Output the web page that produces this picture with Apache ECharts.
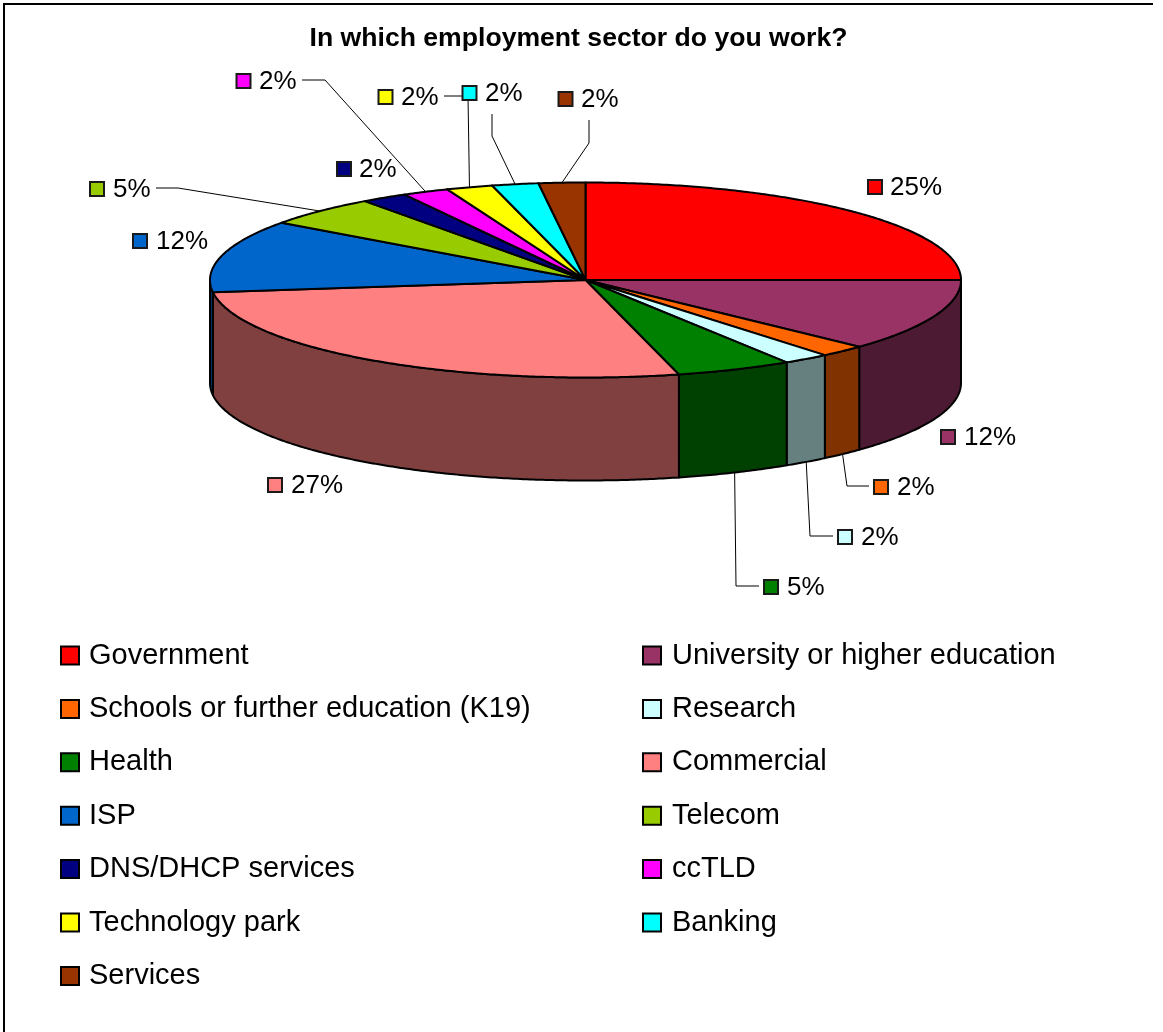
<!DOCTYPE html>
<html>
<head>
<meta charset="utf-8">
<style>html,body{margin:0;padding:0;background:#fff}#chart{width:1163px;height:1032px}</style>
<script src="https://cdn.jsdelivr.net/npm/echarts@6/dist/echarts.min.js"></script>
</head>
<body>
<div id="chart"></div>
<script>
// Survey answers, in percent, in drawing order (clockwise from twelve o'clock).
const categories = ['Government', 'University or higher education', 'Schools or further education (K19)', 'Research', 'Health', 'Commercial', 'ISP', 'Telecom', 'DNS/DHCP services', 'ccTLD', 'Technology park', 'Banking', 'Services'];
const shares = [25, 12, 2, 2, 5, 27, 12, 5, 2, 2, 2, 2, 2];
const colours = ['#FF0000', '#993366', '#FF6600', '#CCFFFF', '#008000', '#FF8080', '#0066CC', '#99CC00', '#000080', '#FF00FF', '#FFFF00', '#00FFFF', '#993300'];

// Disc geometry in pixels.
const disc = { cx: 585.5, cy: 280, rx: 375.5, ry: 97.5, depth: 103 };
const FONT = '"Liberation Sans", Arial, sans-serif';

// Where each percentage label sits: colour key centre, text start, optional leader bend and leader start.
const labelLayout = [
  { key: [875, 187], text: 890 },
  { key: [948, 437], text: 964 },
  { key: [881, 487], text: 897, leader: [[869, 486], [847, 486]] },
  { key: [845, 537], text: 861, leader: [[833, 536], [810, 536]] },
  { key: [771, 587], text: 787, leader: [[759, 586], [736, 586]] },
  { key: [275, 485], text: 291 },
  { key: [140, 241], text: 156 },
  { key: [97, 189], text: 113, leader: [[156, 188], [178, 188]] },
  { key: [344, 169], text: 359 },
  { key: [243.5, 81], text: 259, leader: [[302, 80], [325, 80]] },
  { key: [385.5, 97], text: 401, leader: [[444, 96], [468, 96]] },
  { key: [469.5, 93], text: 485, leader: [[492, 114], [492, 136]] },
  { key: [565.5, 99], text: 581, leader: [[589, 120], [589, 143]] }
];

const total = shares.reduce((a, b) => a + b, 0);

// Running start angle of each slice, in degrees clockwise from the top of the disc.
const startAngles = [];
shares.reduce((sum, v, i) => { startAngles[i] = sum / total * 360; return sum + v; }, 0);

function rimPoint(deg, drop) {
  const t = deg * Math.PI / 180;
  return [disc.cx + disc.rx * Math.sin(t), disc.cy - disc.ry * Math.cos(t) + (drop || 0)];
}

function arcPoints(from, to, drop) {
  const pts = [];
  const steps = Math.max(2, Math.ceil((to - from) * 2));
  for (let s = 0; s <= steps; s++) pts.push(rimPoint(from + (to - from) * s / steps, drop));
  return pts;
}

function halfTone(hex) {
  const n = parseInt(hex.slice(1), 16);
  const c = [(n >> 16) & 255, (n >> 8) & 255, n & 255].map(v => Math.round(v / 2));
  return `rgb(${c.join(',')})`;
}

const edge = { stroke: '#000', lineWidth: 2, lineJoin: 'round' };

function renderSlice(params, api) {
  const i = params.seriesIndex;
  const from = startAngles[i];
  const to = from + api.value(0) / total * 360;
  const children = [];

  // Outer wall, only where the rim faces the viewer.
  const wallFrom = Math.max(from, 90);
  const wallTo = Math.min(to, 270);
  if (wallTo > wallFrom) {
    const upper = arcPoints(wallFrom, wallTo, 0);
    const lower = arcPoints(wallFrom, wallTo, disc.depth).reverse();
    children.push({
      type: 'polygon',
      shape: { points: upper.concat(lower) },
      style: Object.assign({ fill: halfTone(colours[i]) }, edge)
    });
  }

  // Top face.
  children.push({
    type: 'polygon',
    shape: { points: [[disc.cx, disc.cy]].concat(arcPoints(from, to, 0)) },
    style: Object.assign({ fill: colours[i] }, edge)
  });

  // Percentage label with its colour key and optional leader.
  const place = labelLayout[i];
  if (place.leader) {
    const mid = (from + to) / 2;
    const faces = mid > 90 && mid < 270;
    children.push({
      type: 'polyline',
      z2: 5,
      shape: { points: place.leader.concat([rimPoint(mid, faces ? disc.depth : 0)]) },
      style: { stroke: '#000', lineWidth: 1, fill: null }
    });
  }
  children.push({
    type: 'rect',
    z2: 6,
    shape: { x: place.key[0] - 7, y: place.key[1] - 7, width: 14, height: 14 },
    style: { fill: colours[i], stroke: '#1a1a1a', lineWidth: 2 }
  });
  children.push({
    type: 'text',
    z2: 6,
    x: place.text,
    y: place.key[1] + 0.5,
    style: { text: api.value(0) + '%', font: '26px ' + FONT, fill: '#000', verticalAlign: 'middle' }
  });
  return { type: 'group', children };
}

const series = categories.map((name, i) => ({
  name,
  type: 'custom',
  coordinateSystem: 'none',
  silent: true,
  animation: false,
  itemStyle: { color: colours[i] },
  data: [[shares[i]]],
  renderItem: renderSlice
}));

function legendColumn(left, remainder, textGap) {
  return {
    left,
    top: 641,
    height: 385,
    orient: 'vertical',
    padding: 0,
    icon: 'rect',
    itemWidth: 18,
    itemHeight: 18,
    itemGap: 24.4,
    selectedMode: false,
    itemStyle: { borderColor: '#000', borderWidth: 2 },
    textStyle: { fontFamily: FONT, fontSize: 29, color: '#000', padding: [4, 0, 0, textGap] },
    data: categories.filter((_, i) => i % 2 === remainder)
  };
}

const chart = echarts.init(document.getElementById('chart'), null, { renderer: 'canvas' });
chart.setOption({
  animation: false,
  backgroundColor: '#fff',
  title: {
    text: 'In which employment sector do you work?',
    left: 573.5,
    top: 20,
    textAlign: 'center',
    textStyle: { fontFamily: FONT, fontSize: 26.6, fontWeight: 'bold', color: '#000' }
  },
  legend: [legendColumn(60, 0, 5), legendColumn(642, 1, 6)],
  graphic: [
    { type: 'polyline', silent: true, shape: { points: [[4, 1032], [4, 4], [1153, 4]] }, style: { stroke: '#000', lineWidth: 2, fill: null } }
  ],
  series
});
</script>
</body>
</html>
